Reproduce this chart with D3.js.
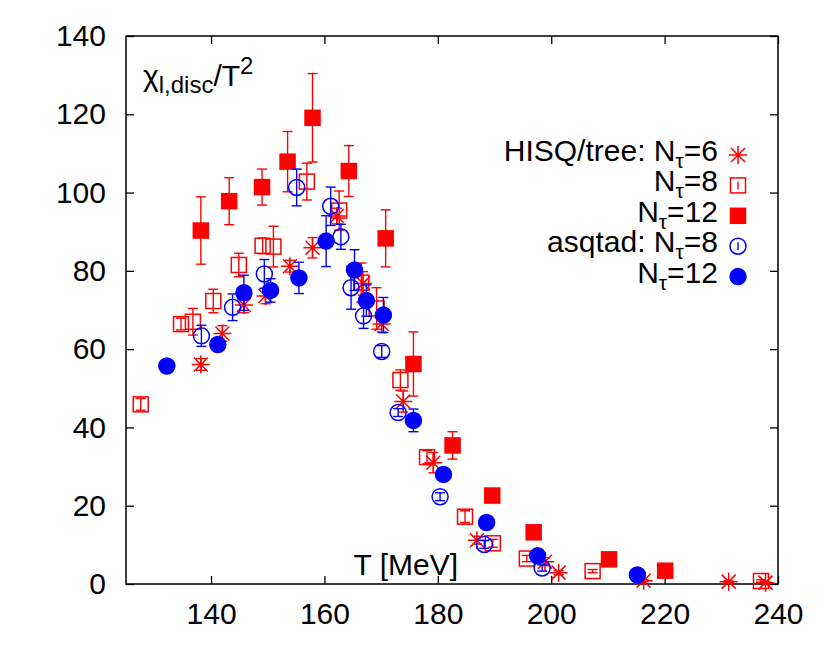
<!DOCTYPE html>
<html>
<head>
<meta charset="utf-8">
<script src="https://cdn.jsdelivr.net/npm/d3@7"></script>
<style>
  body { margin: 0; background: #fff; }
  text { font-family: "Liberation Sans", Arial, sans-serif; fill: #000; }
</style>
</head>
<body>
<div id="chart"></div>
<script>
// [T in MeV, value, error]
const hisqNt6 = [
  [138.2, 56.1, 1.5], [142.0, 64.0, 2], [145.8, 71.3, 2], [149.6, 73.6, 2],
  [153.9, 81.2, 1.5], [157.9, 85.9, 2.6], [162.2, 94.0, 2], [166.8, 76.8, 3],
  [170.1, 66.4, 2], [173.9, 46.6, 2.7], [179.2, 31.0, 2.6], [186.9, 11.2, 1],
  [198.9, 5.7, 1], [201.3, 2.9, 0.5], [216.3, 0.85, 0.3], [231.3, 0.6, 0.2],
  [237.8, 0.35, 0.2]
];
const hisqNt8 = [
  [127.6, 45.9, 1.5], [134.7, 66.4, 1.5], [136.8, 67.0, 3.4], [140.4, 72.3, 3],
  [144.9, 81.5, 3], [149.1, 86.4, 2], [151.0, 86.2, 5.2], [156.9, 102.8, 4.7],
  [162.6, 95.4, 5], [166.5, 77.0, 5], [169.2, 70.4, 5.3], [173.4, 52.1, 2.6],
  [178.1, 32.4, 1.7], [184.8, 17.2, 1.5], [189.7, 10.4, 1], [195.7, 6.5, 0.8],
  [207.3, 3.3, 0.4], [237.0, 0.77, 0.3]
];
const hisqNt12 = [
  [138.2, 90.3, 8.6], [143.2, 97.8, 6], [149.0, 101.4, 4.6], [153.5, 107.9, 7.7],
  [157.9, 119.1, 11.3], [164.3, 105.5, 6.5], [170.8, 88.3, 7.3], [175.7, 56.2, 8.2],
  [182.6, 35.4, 3.5], [189.6, 22.6, 1], [196.9, 13.2, 0.5], [210.2, 6.3, 0.4],
  [220.1, 3.4, 0.3]
];
const asqtadNt8 = [
  [138.3, 63.4, 2.7], [143.8, 70.7, 3.4], [149.4, 79.2, 3.7], [155.1, 101.3, 4.7],
  [161.1, 96.5, 4.9], [162.9, 88.7, 3.2], [164.7, 75.7, 5.5], [166.9, 68.5, 3.2],
  [170.1, 59.4, 1.5], [173.0, 43.8, 1], [180.4, 22.3, 1], [188.2, 10.1, 1],
  [198.4, 4.1, 0.8]
];
const asqtadNt12 = [
  [132.2, 55.7, 1.5], [141.2, 61.2, 1.2], [145.8, 74.4, 4.5], [150.5, 75.0, 3],
  [155.5, 78.2, 4], [160.3, 87.6, 6.5], [165.3, 80.2, 5.2], [167.4, 72.4, 4],
  [170.4, 68.7, 4.5], [175.7, 41.8, 2.9], [181.0, 28.0, 1], [188.6, 15.7, 1],
  [197.6, 7.2, 0.7], [215.2, 2.3, 0.3]
];

const xTicks = [140, 160, 180, 200, 220, 240];
const yTicks = [0, 20, 40, 60, 80, 100, 120, 140];

const series = [
  { data: hisqNt6, color: "#ff0000", shape: "star", prefix: "HISQ/tree: ", nt: "6" },
  { data: hisqNt8, color: "#ff0000", shape: "square", prefix: "", nt: "8" },
  { data: hisqNt12, color: "#ff0000", shape: "squareFilled", prefix: "", nt: "12" },
  { data: asqtadNt8, color: "#0000ff", shape: "circle", prefix: "asqtad: ", nt: "8" },
  { data: asqtadNt12, color: "#0000ff", shape: "circleFilled", prefix: "", nt: "12" }
];

const width = 830;
const height = 646;
const margin = { top: 36, right: 52, bottom: 62, left: 126 };
const fontSize = 30;

const x = d3.scaleLinear().domain([125, 240]).range([margin.left, width - margin.right]);
const y = d3.scaleLinear().domain([0, 140]).range([height - margin.bottom, margin.top]);

const svg = d3.select("#chart").append("svg")
  .attr("width", width)
  .attr("height", height);

// axes, ticks pointing inward on all four sides
function styleAxis(g, labels) {
  g.select(".domain").remove();
  g.selectAll(".tick line").attr("stroke", "#000").attr("stroke-width", 1.3);
  if (!labels) g.selectAll(".tick text").remove();
  else g.selectAll(".tick text").attr("font-size", fontSize).attr("fill", "#000");
}

svg.append("g")
  .attr("transform", `translate(0,${y(0)})`)
  .call(d3.axisBottom(x).tickValues(xTicks).tickSize(-8).tickPadding(19))
  .call(g => styleAxis(g, true));
svg.append("g")
  .attr("transform", `translate(0,${y(140)})`)
  .call(d3.axisTop(x).tickValues(xTicks).tickSize(-8))
  .call(g => styleAxis(g, false));
svg.append("g")
  .attr("transform", `translate(${x(125)},0)`)
  .call(d3.axisLeft(y).tickValues(yTicks).tickSize(-8).tickPadding(20))
  .call(g => styleAxis(g, true));
svg.append("g")
  .attr("transform", `translate(${x(240)},0)`)
  .call(d3.axisRight(y).tickValues(yTicks).tickSize(-8))
  .call(g => styleAxis(g, false));

svg.append("rect")
  .attr("x", x(125)).attr("y", y(140))
  .attr("width", x(240) - x(125)).attr("height", y(0) - y(140))
  .attr("fill", "none").attr("stroke", "#000").attr("stroke-width", 1.5);

function drawMarker(g, shape, color) {
  const s = 7.5;
  if (shape === "star") {
    const a = 9, d = 7;
    const p = d3.path();
    p.moveTo(-a, 0); p.lineTo(a, 0);
    p.moveTo(0, -a); p.lineTo(0, a);
    p.moveTo(-d, -d); p.lineTo(d, d);
    p.moveTo(-d, d); p.lineTo(d, -d);
    g.append("path").attr("d", p.toString()).attr("stroke", color).attr("stroke-width", 1.5).attr("fill", "none");
  } else if (shape === "square" || shape === "squareFilled") {
    g.append("rect").attr("x", -s).attr("y", -s).attr("width", 2 * s).attr("height", 2 * s)
      .attr("fill", shape === "squareFilled" ? color : "none")
      .attr("stroke", color).attr("stroke-width", 1.5);
  } else {
    g.append("circle").attr("r", s + 0.5)
      .attr("fill", shape === "circleFilled" ? color : "none")
      .attr("stroke", color).attr("stroke-width", 1.5);
  }
}

const plot = svg.append("g");
series.forEach(sr => {
  const g = plot.append("g");
  sr.data.forEach(([t, v, e]) => {
    const cx = x(t);
    const bar = g.append("g").attr("stroke", sr.color).attr("stroke-width", 1.4);
    bar.append("line").attr("x1", cx).attr("x2", cx).attr("y1", y(v - e)).attr("y2", y(v + e));
    bar.append("line").attr("x1", cx - 5).attr("x2", cx + 5).attr("y1", y(v - e)).attr("y2", y(v - e));
    bar.append("line").attr("x1", cx - 5).attr("x2", cx + 5).attr("y1", y(v + e)).attr("y2", y(v + e));
    drawMarker(g.append("g").attr("transform", `translate(${cx},${y(v)})`), sr.shape, sr.color);
  });
});

// y label inside the frame
const yl = svg.append("text").attr("x", 143).attr("y", 86).attr("font-size", fontSize);
yl.append("tspan").text("\u03c7");
yl.append("tspan").attr("font-size", 24).attr("dy", 7).text("l,disc");
yl.append("tspan").attr("dy", -7).text("/T");
yl.append("tspan").attr("font-size", 24).attr("dy", -12).text("2");

// x label inside the frame
svg.append("text").attr("x", 458).attr("y", 575).attr("text-anchor", "end")
  .attr("font-size", fontSize).text("T [MeV]");

// legend
const legend = svg.append("g");
series.forEach((sr, i) => {
  const cy = 155 + i * 30.4;
  const t = legend.append("text").attr("x", 718).attr("y", cy + 6)
    .attr("text-anchor", "end").attr("font-size", fontSize);
  t.append("tspan").text(sr.prefix + "N");
  t.append("tspan").attr("font-size", 21).attr("dy", 7).text("\u03c4");
  t.append("tspan").attr("dy", -7).text("=" + sr.nt);
  const m = legend.append("g").attr("transform", `translate(738,${cy})`);
  if (sr.shape === "square" || sr.shape === "circle") {
    m.append("line").attr("y1", -4).attr("y2", 4).attr("stroke", sr.color).attr("stroke-width", 1.4);
  }
  drawMarker(m, sr.shape, sr.color);
});
</script>
</body>
</html>
